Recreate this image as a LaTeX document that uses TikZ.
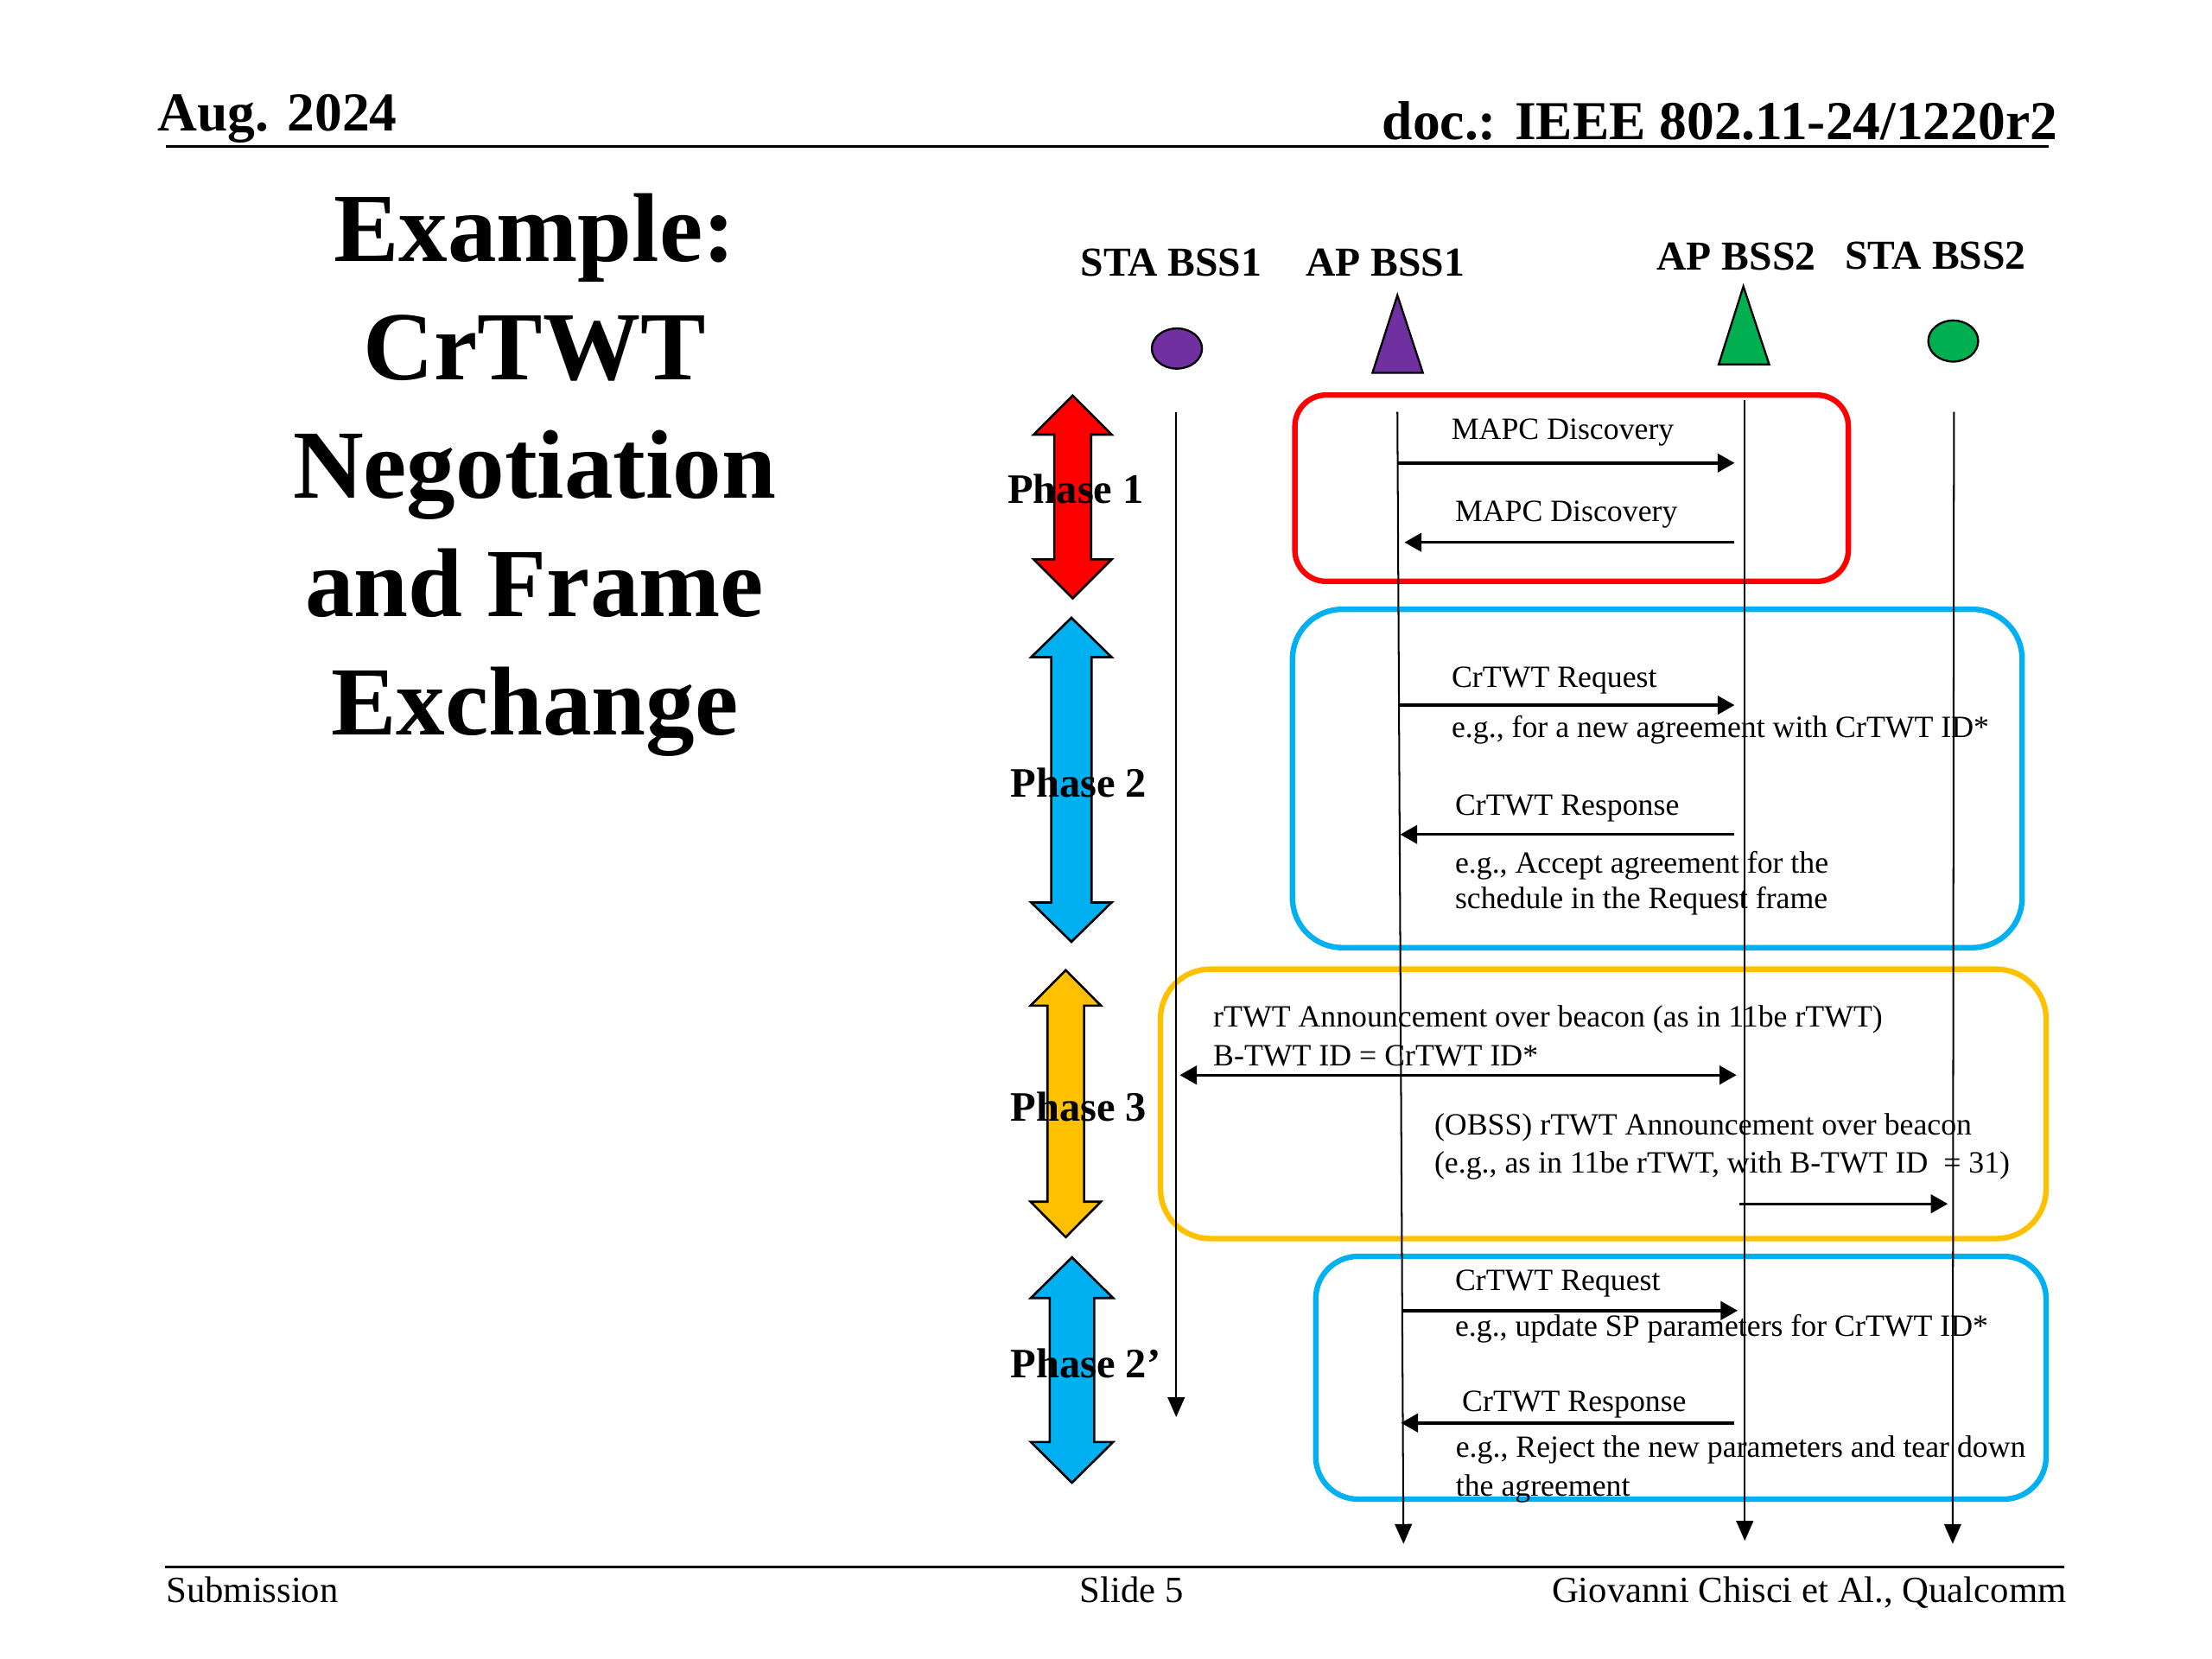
\documentclass[tikz,border=0pt]{standalone}
\usepackage{fontspec}
\setmainfont{Liberation Serif}
\usepackage{tikz}
\usetikzlibrary{arrows.meta}

\definecolor{pptred}{RGB}{255,0,0}
\definecolor{pptblue}{RGB}{0,176,240}
\definecolor{pptorange}{RGB}{255,192,0}
\definecolor{pptpurple}{RGB}{112,48,160}
\definecolor{pptgreen}{RGB}{0,176,80}

\tikzset{
  hdr/.style = {inner sep=0pt, font=\fontsize{11}{13}\selectfont\bfseries},
  ftr/.style = {inner sep=0pt, font=\fontsize{7.4}{9}\selectfont},
  ttl/.style = {inner sep=0pt, anchor=base, font=\fontsize{19.6}{23.8}\selectfont\bfseries},
  who/.style = {inner sep=0pt, anchor=base, font=\fontsize{8.25}{10}\selectfont\bfseries},
  phase/.style = {inner sep=0pt, anchor=base west, font=\fontsize{8.4}{10}\selectfont\bfseries},
  txt/.style = {inner sep=0pt, anchor=base west, font=\fontsize{6.2}{7.4}\selectfont},
  rule/.style = {line width=0.6pt},
  life/.style = {line width=0.35pt, -{Triangle[length=1.4mm,width=1.2mm]}},
  msg/.style = {line width=0.6pt, -{Triangle[length=1.2mm,width=1.3mm]}},
  bimsg/.style = {line width=0.6pt, {Triangle[length=1.2mm,width=1.3mm]}-{Triangle[length=1.2mm,width=1.3mm]}},
  bigarrow/.style = {draw=black, line width=0.45pt, line join=miter},
  frame/.style = {line width=1.1pt},
  icon/.style = {draw=black, line width=0.4pt}
}

% cx, top, bottom, head half width, shaft half width, head length, colour
\newcommand\phasearrow[7]{%
  \draw[bigarrow, fill=#7] (#1,#2) -- ({#1+#4},{#2+#6}) -- ({#1+#5},{#2+#6})
    -- ({#1+#5},{#3-#6}) -- ({#1+#4},{#3-#6}) -- (#1,#3) -- ({#1-#4},{#3-#6})
    -- ({#1-#5},{#3-#6}) -- ({#1-#5},{#2+#6}) -- ({#1-#4},{#2+#6}) -- cycle;}

\begin{document}
\begin{tikzpicture}[x=0.01cm, y=-0.01cm]
	\useasboundingbox (0,0) rectangle (1560,1170);

	% header / footer
	\node[hdr, anchor=base west] (date) at (110.7,92.4) {Aug. 2024};
	\node[hdr, anchor=base east] (docid) at (1451.6,98.5) {doc.: IEEE 802.11-24/1220r2};
	\coordinate (hl) at (116.7,103.4);
	\coordinate (hr) at (1444.6,103.4);
	\draw[rule] (hl) -- (hr);
	\coordinate (fl) at (116.5,1105);
	\coordinate (fr) at (1456,1105);
	\draw[rule] (fl) -- (fr);
	\node[ftr, anchor=base west] (sub) at (116.5,1129.8) {Submission};
	\node[ftr, anchor=base] (slide) at (798,1129.8) {Slide 5};
	\node[ftr, anchor=base east] (auth) at (1458,1129.8) {Giovanni Chisci et Al., Qualcomm};

	% title
	\node[ttl] (t1) at (377,184.5) {Example:};
	\node[ttl] (t2) at (377,268) {CrTWT};
	\node[ttl] (t3) at (377,351.5) {Negotiation};
	\node[ttl] (t4) at (377,435) {and Frame};
	\node[ttl] (t5) at (377,518.5) {Exchange};

	% stations
	\node[who] (sta1) at (826,195) {STA BSS1};
	\node[who] (ap1) at (977,195) {AP BSS1};
	\node[who] (ap2) at (1224.5,190.6) {AP BSS2};
	\node[who] (sta2) at (1365,189.6) {STA BSS2};
	\draw[icon, fill=pptpurple] (830,245.8) ellipse [x radius=17.7, y radius=14.2];
	\draw[icon, fill=pptpurple] (967.9,263) -- (985.5,208.2) -- (1003.5,263) -- cycle;
	\draw[icon, fill=pptgreen] (1212.1,257) -- (1229.5,202) -- (1247.7,257) -- cycle;
	\draw[icon, fill=pptgreen] (1377.5,240.5) ellipse [x radius=17.6, y radius=14.5];

	% phase boxes
	\draw[frame, pptred, rounded corners=0.22cm] (913.2,278.6) rectangle (1303.5,410);
	\draw[frame, pptblue, rounded corners=0.35cm] (911.5,429.7) rectangle (1426.1,668.3);
	\draw[frame, pptorange, rounded corners=0.35cm] (818.4,683.5) rectangle (1443,873.5);
	\draw[frame, pptblue, rounded corners=0.3cm] (927.9,886) rectangle (1443,1057.3);

	% lifelines
	\coordinate (sta1top) at (829.5,290.5);
	\coordinate (sta1end) at (829.5,999.4);
	\coordinate (ap1top) at (985.5,290.5);
	\coordinate (ap1end) at (989.8,1088.8);
	\coordinate (ap2top) at (1230.5,282);
	\coordinate (ap2end) at (1230.5,1086.6);
	\coordinate (sta2top) at (1378,290.5);
	\coordinate (sta2end) at (1377.1,1088.8);
	\draw[life] (sta1top) -- (sta1end);
	\draw[life] (ap1top) -- (ap1end);
	\draw[life] (ap2top) -- (ap2end);
	\draw[life] (sta2top) -- (sta2end);

	% phase arrows
	\phasearrow{756.5}{279}{422}{27.5}{13}{27.5}{pptred}
	\phasearrow{755.6}{435.7}{664.2}{28.3}{14.2}{27.7}{pptblue}
	\phasearrow{751.6}{684.2}{872.5}{24.8}{12.9}{25}{pptorange}
	\phasearrow{756}{886.7}{1045.7}{29}{15.7}{28.7}{pptblue}
	\node[phase] (p1) at (710,355) {Phase 1};
	\node[phase] (p2) at (712,562) {Phase 2};
	\node[phase] (p3) at (712,790.5) {Phase 3};
	\node[phase] (p4) at (712,971.4) {Phase 2’};

	% phase 1
	\coordinate (disc1a) at (985.7,326.5);
	\coordinate (disc1b) at (1223.3,326.5);
	\coordinate (disc2a) at (1223.3,382.5);
	\coordinate (disc2b) at (990.5,382.5);
	\node[txt] (l1) at (1023,309.7) {MAPC Discovery};
	\draw[msg] (disc1a) -- (disc1b);
	\node[txt] (l2) at (1025.5,367.6) {MAPC Discovery};
	\draw[msg] (disc2a) -- (disc2b);

	% phase 2
	\coordinate (req1a) at (986.5,497.3);
	\coordinate (req1b) at (1223.3,497.3);
	\coordinate (rsp1a) at (1223.3,588.5);
	\coordinate (rsp1b) at (987.5,588.5);
	\node[txt] (l3) at (1023.1,484.5) {CrTWT Request};
	\draw[msg] (req1a) -- (req1b);
	\node[txt] (l4) at (1023.1,520) {e.g., for a new agreement with CrTWT ID*};
	\node[txt] (l5) at (1025.5,575) {CrTWT Response};
	\draw[msg] (rsp1a) -- (rsp1b);
	\node[txt] (l6) at (1025.5,615.5) {e.g., Accept agreement for the};
	\node[txt] (l7) at (1025.5,641) {schedule in the Request frame};

	% phase 3
	\coordinate (ann1a) at (832,758.2);
	\coordinate (ann1b) at (1224.7,758.2);
	\coordinate (ann2a) at (1226.8,849);
	\coordinate (ann2b) at (1373.7,849);
	\node[txt] (l8) at (855,724.2) {rTWT Announcement over beacon (as in 11be rTWT)};
	\node[txt] (l9) at (855,751.6) {B-TWT ID = CrTWT ID*};
	\draw[bimsg] (ann1a) -- (ann1b);
	\node[txt] (l10) at (1010.9,800.4) {(OBSS) rTWT Announcement over beacon};
	\node[txt] (l11) at (1010.9,827.2) {(e.g., as in 11be rTWT, with B-TWT ID \ = 31)};
	\draw[msg] (ann2a) -- (ann2b);

	% phase 2'
	\coordinate (req2a) at (988.9,924.3);
	\coordinate (req2b) at (1225.5,924.3);
	\coordinate (rsp2a) at (1223.3,1003.5);
	\coordinate (rsp2b) at (988,1003.5);
	\node[txt] (l12) at (1025.5,910) {CrTWT Request};
	\draw[msg] (req2a) -- (req2b);
	\node[txt] (l13) at (1025.5,942.6) {e.g., update SP parameters for CrTWT ID*};
	\node[txt] (l14) at (1030.5,995.3) {CrTWT Response};
	\draw[msg] (rsp2a) -- (rsp2b);
	\node[txt] (l15) at (1026,1027.8) {e.g., Reject the new parameters and tear down};
	\node[txt] (l16) at (1026,1055) {the agreement};
\end{tikzpicture}
\end{document}
